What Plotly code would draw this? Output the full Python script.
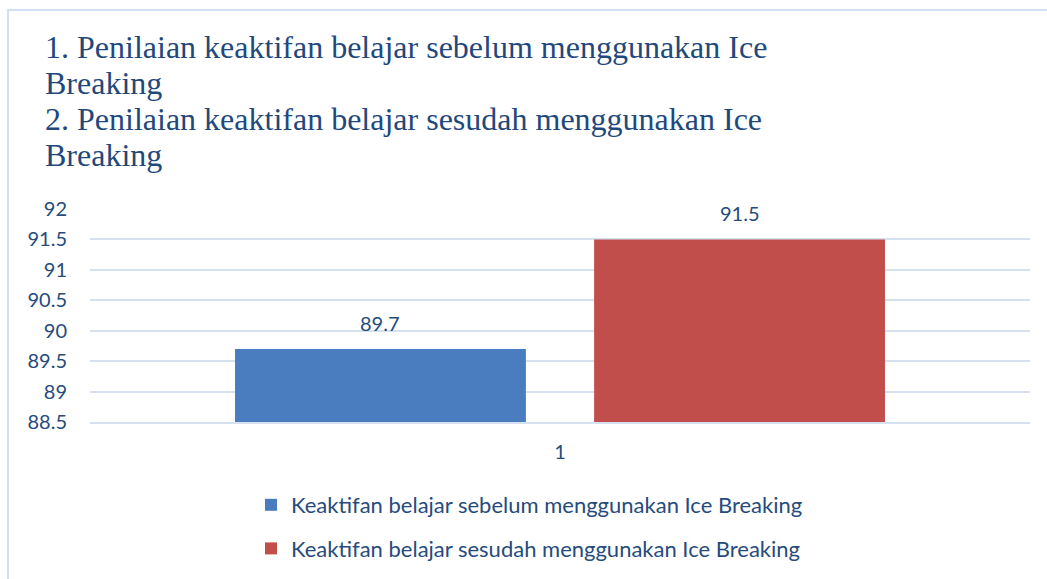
import plotly.graph_objects as go

# data
categories = ["1"]
sebelum = [89.7]
sesudah = [91.5]
series_names = [
    "Keaktifan belajar sebelum menggunakan Ice Breaking",
    "Keaktifan belajar sesudah menggunakan Ice Breaking",
]
title_lines = [
    "1. Penilaian keaktifan belajar sebelum menggunakan Ice",
    "Breaking",
    "2. Penilaian keaktifan belajar sesudah menggunakan Ice",
    "Breaking",
]
y_ticks = [88.5, 89, 89.5, 90, 90.5, 91, 91.5, 92]

TEXT = "#264b7c"
GRID = "#d6e1f0"
W, H = 1047, 579
L, R, T, B = 90, 17, 209, 157
PW, PH = W - L - R, H - T - B
BARGAP, GROUPGAP = 0.236, 0.19

fig = go.Figure()
fig.add_trace(go.Bar(
    x=categories, y=sebelum, name=series_names[0],
    marker=dict(color="#4a7dbf", line=dict(width=0)),
    legendgroup="a",
))
fig.add_trace(go.Bar(
    x=categories, y=sesudah, name=series_names[1],
    marker=dict(color="#c24e4b", line=dict(width=0)),
    legendgroup="b",
))

# value labels above each bar (bar centres follow from the group gaps)
slot = (1 - BARGAP) / 2
annotations = []
for k, series in enumerate([sebelum, sesudah]):
    for i, v in enumerate(series):
        annotations.append(dict(
            x=i - slot / 2 + k * slot, y=v, xref="x", yref="y",
            text=f"{v:g}", showarrow=False, yanchor="middle", yshift=26,
            font=dict(family="Lato", size=20, color=TEXT),
        ))

# title lines
for j, line in enumerate(title_lines):
    annotations.append(dict(
        x=(43 - L) / PW, xref="paper", xanchor="left",
        y=(H - B - (47 + 36 * j)) / PH, yref="paper", yanchor="middle",
        text=line, showarrow=False, align="left",
        font=dict(family="Liberation Serif", size=32, color="#1f497d"),
    ))

fig.update_layout(
    width=W, height=H,
    paper_bgcolor="white", plot_bgcolor="white",
    margin=dict(l=L, r=R, t=T, b=B, autoexpand=False),
    barmode="group", bargap=BARGAP, bargroupgap=GROUPGAP,
    yaxis=dict(
        range=[88.5, 92], tickvals=y_ticks,
        ticktext=[f"{v:g}" for v in y_ticks],
        showgrid=True, gridcolor=GRID, gridwidth=1.5,
        zeroline=False, showline=False,
        tickfont=dict(family="Lato", size=20, color=TEXT),
        ticklabelstandoff=22,
    ),
    xaxis=dict(
        showline=True, linecolor=GRID, linewidth=1.5,
        tickfont=dict(family="Lato", size=20, color=TEXT),
        ticklabelstandoff=11,
    ),
    showlegend=True,
    legend=dict(
        orientation="v", traceorder="grouped", tracegroupgap=12,
        x=(251 - L) / PW, xanchor="left",
        y=(H - B - 484) / PH, yanchor="top",
        font=dict(family="Lato", size=22, color=TEXT),
        itemwidth=30, bgcolor="rgba(0,0,0,0)",
    ),
    annotations=annotations,
    shapes=[dict(
        type="rect", xref="paper", yref="paper",
        x0=(8 - L) / PW, x1=(1052 - L) / PW,
        y0=(H - B - 590) / PH, y1=(H - B - 10) / PH,
        line=dict(color="#d3e0f2", width=2), fillcolor="rgba(0,0,0,0)",
        layer="below",
    )],
)

fig.write_html("out.html", config={"displayModeBar": False},
               post_script="document.body.style.margin='0';")
